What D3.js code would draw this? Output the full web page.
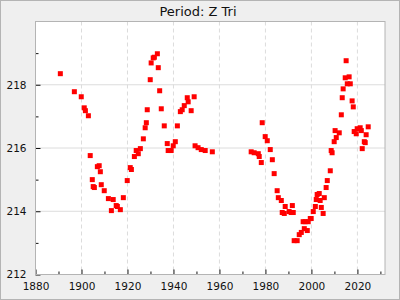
<!DOCTYPE html>
<html>
<head>
<meta charset="utf-8">
<script src="https://cdn.jsdelivr.net/npm/d3@7"></script>
<style>
  body { margin: 0; }
  svg { display: block; font-family: "DejaVu Sans", sans-serif; }
</style>
</head>
<body>
<svg id="chart" width="400" height="300"></svg>
<script>
'use strict';

const title = "Period: Z Tri";

const years = [
    1890.8, 1896.9, 1899.9, 1901.2, 1901.7, 1903.0, 1903.8, 1904.7, 1905.1, 1905.6,
    1906.9, 1907.7, 1908.2, 1908.6, 1909.9, 1911.7, 1913.0, 1913.8, 1915.1, 1915.6,
    1916.9, 1918.2, 1919.9, 1921.2, 1921.7, 1923.0, 1923.8, 1924.7, 1925.6, 1926.9,
    1927.7, 1928.2, 1928.6, 1929.9, 1930.3, 1931.2, 1931.7, 1933.0, 1933.4, 1934.0,
    1934.7, 1936.0, 1937.3, 1937.7, 1939.0, 1939.9, 1940.8, 1941.7, 1943.0, 1943.8,
    1944.7, 1946.0, 1946.4, 1947.7, 1949.0, 1949.4, 1950.7, 1952.1, 1953.8, 1956.9,
    1973.8, 1975.1, 1976.9, 1977.3, 1978.2, 1978.6, 1979.9, 1980.8, 1982.1, 1983.0,
    1983.8, 1985.1, 1985.6, 1986.9, 1987.3, 1988.2, 1988.6, 1990.3, 1991.2, 1991.7,
    1992.1, 1992.5, 1993.8, 1994.7, 1995.6, 1996.4, 1996.9, 1997.3, 1998.2, 1998.6,
    1999.5, 1999.9, 2000.8, 2001.7, 2002.1, 2002.5, 2003.4, 2003.8, 2004.3, 2005.1,
    2005.6, 2006.4, 2006.9, 2008.2, 2008.6, 2009.0, 2009.9, 2010.3, 2010.8, 2012.1,
    2013.0, 2013.4, 2013.8, 2014.7, 2015.1, 2015.6, 2016.4, 2016.9, 2017.7, 2018.2,
    2018.6, 2019.5, 2019.9, 2021.2, 2021.7, 2022.1, 2023.0, 2023.4, 2023.8, 2024.7
];
const periods = [
    218.35, 217.78, 217.62, 217.27, 217.18, 217.02, 215.76, 215.00, 214.78, 214.75,
    215.41, 215.44, 215.25, 214.84, 214.65, 214.40, 214.02, 214.37, 214.18, 214.15,
    214.05, 214.43, 214.97, 215.38, 215.32, 215.73, 215.92, 215.82, 215.98, 216.29,
    216.64, 216.80, 217.21, 218.16, 218.69, 218.85, 218.87, 218.98, 218.54, 217.81,
    217.24, 216.70, 216.14, 215.92, 215.92, 216.07, 216.20, 216.70, 217.15, 217.21,
    217.34, 217.59, 217.46, 217.18, 217.62, 216.07, 216.01, 215.95, 215.92, 215.88,
    215.88, 215.85, 215.82, 215.73, 215.54, 216.80, 216.36, 216.23, 215.95, 215.63,
    215.19, 214.65, 214.43, 214.34, 213.96, 213.93, 214.15, 213.99, 213.96, 214.18,
    213.96, 213.07, 213.07, 213.26, 213.33, 213.67, 213.45, 213.67, 213.39, 213.67,
    213.77, 213.77, 213.99, 214.15, 214.37, 214.53, 214.56, 214.34, 214.12, 213.93,
    214.43, 214.75, 214.97, 215.28, 215.92, 215.85, 216.20, 216.55, 216.33, 216.48,
    217.05, 217.59, 217.87, 218.22, 218.76, 218.03, 218.25, 218.03, 217.49, 217.30,
    216.52, 216.45, 216.61, 216.64, 216.55, 215.98, 216.20, 216.17, 216.42, 216.67
];

const xTicks = [1880, 1900, 1920, 1940, 1960, 1980, 2000, 2020];
const xMinorTicks = [1890, 1910, 1930, 1950, 1970, 1990, 2010, 2030];
const yTicks = [212, 214, 216, 218];
const yMinorTicks = [213, 215, 217, 219];

const points = years.map((y, i) => ({ year: y, value: periods[i] }));

const svg = d3.select("#chart");
const W = 400, H = 300;
const margin = { top: 21.5, right: 15, bottom: 25.5, left: 35.5 };
const width = W - margin.left - margin.right,
    height = H - margin.top - margin.bottom;

// outer background
svg.append("rect")
    .attr("x", 0.5).attr("y", 0.5)
    .attr("width", W - 1).attr("height", H - 1)
    .attr("fill", "#efefef")
    .attr("stroke", "#b4b4b4");

svg.append("text")
    .attr("x", 198).attr("y", 15.5)
    .attr("text-anchor", "middle")
    .attr("font-size", 13)
    .attr("fill", "#111")
    .text(title);

const g = svg.append("g").attr("transform", `translate(${margin.left},${margin.top})`);

const xScale = d3.scaleLinear().domain([1880, 2032]).range([0, width]);
const yScale = d3.scaleLinear().domain([212, 220]).range([height, 0]);

g.append("rect")
    .attr("width", width).attr("height", height)
    .attr("fill", "#fff");

// grid
g.selectAll(".hgrid")
    .data(yTicks.slice(1))
    .enter()
    .append("line")
    .attr("class", "hgrid")
    .attr("x1", 0).attr("x2", width)
    .attr("y1", d => yScale(d)).attr("y2", d => yScale(d))
    .attr("stroke", "#dcdcdc");

g.selectAll(".vgrid")
    .data(xTicks.slice(1))
    .enter()
    .append("line")
    .attr("class", "vgrid")
    .attr("y1", 0).attr("y2", height)
    .attr("x1", d => xScale(d)).attr("x2", d => xScale(d))
    .attr("stroke", "#dcdcdc")
    .attr("stroke-dasharray", "4,3");

// axes: ticks point inside the plot
const xAxis = d3.axisBottom(xScale).tickValues(xTicks).tickFormat(d3.format("d")).tickSizeInner(-5).tickSizeOuter(0).tickPadding(8);
const xMinor = d3.axisBottom(xScale).tickValues(xMinorTicks).tickFormat("").tickSizeInner(-3).tickSizeOuter(0);
const yAxis = d3.axisLeft(yScale).tickValues(yTicks).tickFormat(d3.format("d")).tickSizeInner(-5).tickSizeOuter(0).tickPadding(9);
const yMinor = d3.axisLeft(yScale).tickValues(yMinorTicks).tickFormat("").tickSizeInner(-3).tickSizeOuter(0);

function styleAxis(sel) {
    sel.select(".domain").remove();
    sel.selectAll("text").attr("font-family", "DejaVu Sans").attr("font-size", 10.5).attr("fill", "#111");
    sel.selectAll("line").attr("stroke", "#111");
}

g.append("g").attr("transform", `translate(0,${height})`).call(xAxis).call(styleAxis);
g.append("g").attr("transform", `translate(0,${height})`).call(xMinor).call(styleAxis);
g.append("g").call(yAxis).call(styleAxis);
g.append("g").call(yMinor).call(styleAxis);

// plot frame
g.append("rect")
    .attr("width", width).attr("height", height)
    .attr("fill", "none")
    .attr("stroke", "#b4b4b4");

// points
const s = 5;
g.selectAll(".pt")
    .data(points)
    .enter()
    .append("rect")
    .attr("class", "pt")
    .attr("x", d => xScale(d.year) - s / 2)
    .attr("y", d => yScale(d.value) - s / 2)
    .attr("width", s).attr("height", s)
    .attr("fill", "#ff0000");
</script>
</body>
</html>
